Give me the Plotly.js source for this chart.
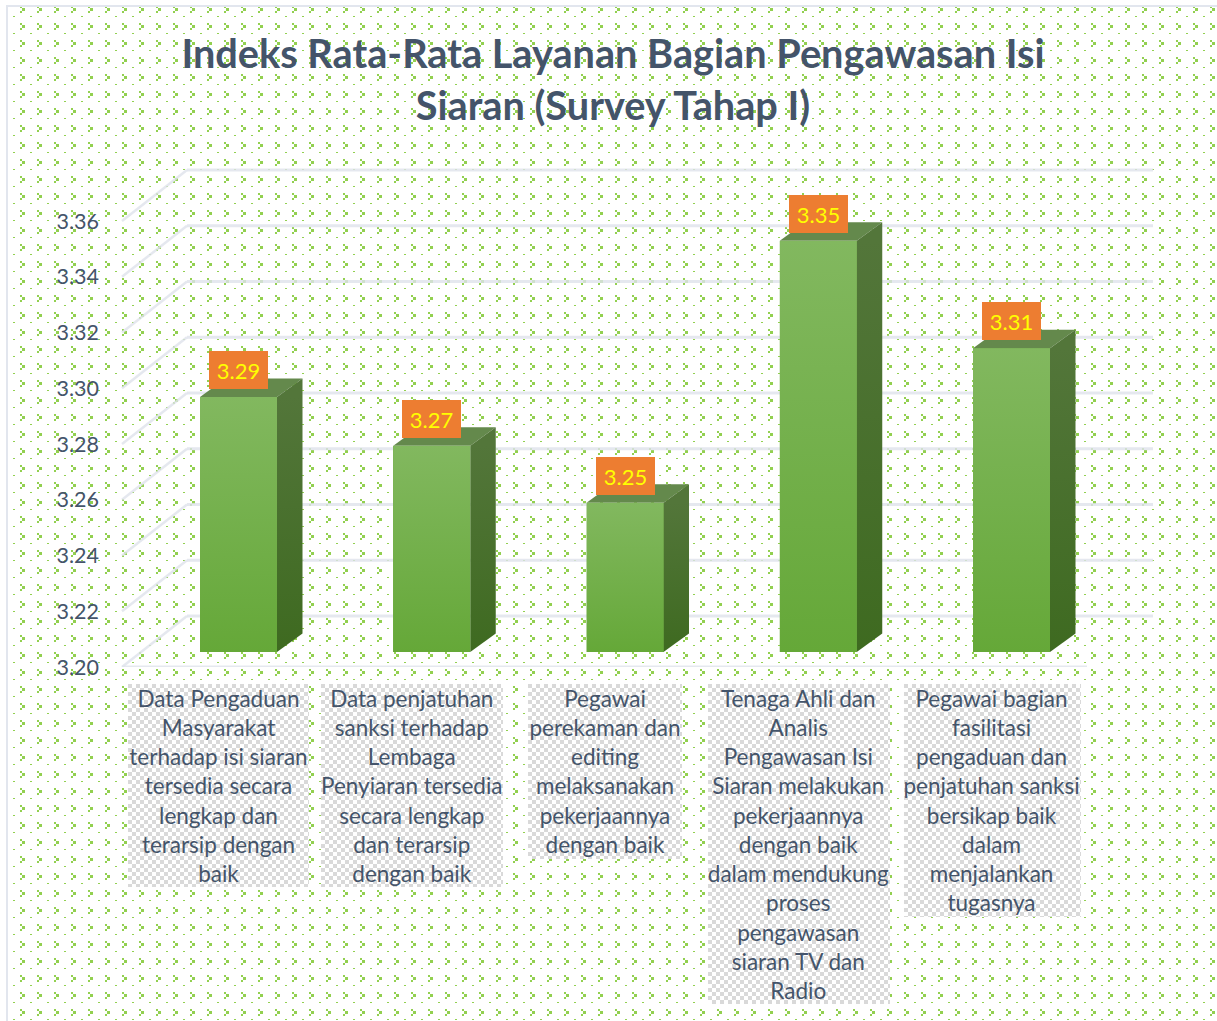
<!DOCTYPE html>
<html><head><meta charset="utf-8">
<script src="https://cdn.plot.ly/plotly-3.0.1.min.js"></script>
<style>
html,body{margin:0;padding:0;background:#fff;overflow:hidden;width:1217px;height:1021px}
#bg{position:absolute;left:6px;top:5px;width:1211px;height:1016px;box-sizing:border-box;border-left:2px solid #e2e6ee;border-top:2px solid #e2e6ee;background-position:-8px -7px}
#chart{position:absolute;left:0;top:0;width:1217px;height:1021px}
</style></head><body>
<div id="bg"></div><div id="chart"></div>
<script>
// Data
var categories = [
 "Data Pengaduan<br>Masyarakat<br>terhadap isi siaran<br>tersedia secara<br>lengkap dan<br>terarsip dengan<br>baik",
 "Data penjatuhan<br>sanksi terhadap<br>Lembaga<br>Penyiaran tersedia<br>secara lengkap<br>dan terarsip<br>dengan baik",
 "Pegawai<br>perekaman dan<br>editing<br>melaksanakan<br>pekerjaannya<br>dengan baik",
 "Tenaga Ahli dan<br>Analis<br>Pengawasan Isi<br>Siaran melakukan<br>pekerjaannya<br>dengan baik<br>dalam mendukung<br>proses<br>pengawasan<br>siaran TV dan<br>Radio",
 "Pegawai bagian<br>fasilitasi<br>pengaduan dan<br>penjatuhan sanksi<br>bersikap baik<br>dalam<br>menjalankan<br>tugasnya"
];
var values = [3.2915, 3.274, 3.2535, 3.3475, 3.309];
var yTicks = [3.20, 3.22, 3.24, 3.26, 3.28, 3.30, 3.32, 3.34, 3.36];
var titleText = "Indeks Rata-Rata Layanan Bagian Pengawasan Isi<br>Siaran (Survey Tahap I)";

// Background tile
var tile = "<svg xmlns='http://www.w3.org/2000/svg' width='17' height='17' shape-rendering='crispEdges'><g fill='#92d050'><rect x='3' y='6' width='2' height='2'/><rect x='5' y='8' width='3' height='3'/><rect x='3' y='11' width='2' height='2'/><rect x='13' y='16' width='2' height='2'/></g></svg>";
document.getElementById('bg').style.backgroundImage = 'url("data:image/svg+xml,' + encodeURIComponent(tile) + '")';

// Geometry (pixel layout of the plot)
var L=120, R=1170, T=150, B=667, W=1217, H=1021;
var pxPerX=193.25, pxPerY=2787.5, x0px=238.5;
var dxu=function(p){return p/pxPerX;}, dyu=function(p){return p/pxPerY;};
var xRange=[(L-x0px)/pxPerX,(R-x0px)/pxPerX];
var yMin=yTicks[0], yRange=[yMin,yMin+(B-T)/pxPerY];
var halfW=dxu(77)/2, baseLift=dyu(15), sideX=dxu(25.5), sideY=dyu(18.5);
var idx=values.map(function(_,i){return i;});
var base=yMin+baseLift;
var xpx=function(p){return (p-x0px)/pxPerX;};

var traces=[];
traces.push({type:'bar',x:idx,y:values.map(function(v){return v-yMin;}),base:values.map(function(){return base;}),
  width:halfW*2,marker:{color:'#74af4b',line:{width:0}},hoverinfo:'skip',showlegend:false});
values.forEach(function(v,i){
  var top=v+baseLift, l=i-halfW, r=i+halfW;
  // top face
  traces.push({type:'scatter',mode:'lines',line:{width:0},fill:'toself',fillcolor:'#64894c',hoverinfo:'skip',showlegend:false,
    x:[l,r,r+sideX,l+sideX,l],y:[top,top,top+sideY,top+sideY,top]});
  // side face
  traces.push({type:'scatter',mode:'lines',line:{width:0},fill:'toself',hoverinfo:'skip',showlegend:false,
    x:[r,r+sideX,r+sideX,r,r],y:[base,base+sideY,top+sideY,top,base],
    fillgradient:{type:'vertical',start:base,stop:top,colorscale:[[0,'#3e6a20'],[1,'#53763a']]}});
  // front face
  traces.push({type:'scatter',mode:'lines',line:{width:0},fill:'toself',hoverinfo:'skip',showlegend:false,
    x:[l,r,r,l,l],y:[base,base,top,top,base],
    fillgradient:{type:'vertical',start:base,stop:top,colorscale:[[0,'#65a838'],[1,'#82b85f']]}});
});

// Walls: grid lines on back plane and depth lines
var gridCol='rgba(222,226,235,0.8)';
var backX=dxu(65), backY=dyu(51);
var shapes=[];
yTicks.forEach(function(t){
  shapes.push({type:'line',layer:'below',xref:'x',yref:'y',x0:xpx(L+2),y0:t,x1:xpx(L+2)+backX,y1:t+backY,line:{color:gridCol,width:2.5}});
  shapes.push({type:'line',layer:'below',xref:'x',yref:'y',x0:xpx(L+2)+backX,y0:t+backY,x1:xpx(1153),y1:t+backY,line:{color:gridCol,width:3}});
});
shapes.push({type:'line',layer:'below',xref:'x',yref:'y',x0:xpx(L+2),y0:yMin,x1:xpx(1087),y1:yMin,line:{color:gridCol,width:3}});

// Value labels
var annotations=values.map(function(v,i){
  return {x:i,y:v+baseLift,xref:'x',yref:'y',yshift:27,text:v.toFixed(2),showarrow:false,
    width:59,height:38,borderpad:0,borderwidth:0,bgcolor:'#ed7d31',font:{family:'Lato',size:22,color:'#ffff00'},align:'center',valign:'middle',xanchor:'center',yanchor:'middle'};
});

// Checker backdrops behind category labels [x0,x1,y1]
var boxes=[[128,309,887],[321,503,887],[528,682,859],[708,890,1004],[904,1081,917]];
var images=boxes.map(function(b){
  var w=b[1]-b[0], h=b[2]-684;
  var svg="<svg xmlns='http://www.w3.org/2000/svg' width='"+w+"' height='"+h+"' shape-rendering='crispEdges'><defs><pattern id='p' width='8' height='8' patternUnits='userSpaceOnUse'><rect width='8' height='8' fill='#fff'/><rect width='4' height='4' fill='#d9d9d9'/><rect x='4' y='4' width='4' height='4' fill='#d9d9d9'/></pattern></defs><rect width='"+w+"' height='"+h+"' fill='url(#p)'/></svg>";
  return {source:'data:image/svg+xml,'+encodeURIComponent(svg),layer:'below',xref:'paper',yref:'paper',
    x:(b[0]-L)/(R-L),y:(B-684)/(B-T),sizex:w/(R-L),sizey:h/(B-T),sizing:'stretch',xanchor:'left',yanchor:'top'};
});

var layout={
  width:W,height:H,autosize:false,
  margin:{l:L,r:W-R,t:T,b:H-B,pad:0},
  paper_bgcolor:'rgba(0,0,0,0)',plot_bgcolor:'rgba(0,0,0,0)',
  font:{family:'Lato',color:'#44546a'},
  title:{text:titleText,x:613/W,xanchor:'center',y:0.9335,yanchor:'middle',font:{family:'Lato',size:39.7,color:'#44546a',weight:700}},
  xaxis:{range:xRange,tickmode:'array',tickvals:idx.map(function(i){return i-dxu(20);}),ticktext:categories,
    showgrid:false,zeroline:false,showline:false,ticks:'',tickangle:0,ticklabelstandoff:16,
    tickfont:{family:'Lato',size:22.5,color:'#44546a'},automargin:false},
  yaxis:{range:yRange,tickmode:'array',tickvals:yTicks,ticktext:yTicks.map(function(t){return t.toFixed(2);}),
    showgrid:false,zeroline:false,showline:false,ticks:'',ticklabelstandoff:20,
    tickfont:{family:'Lato',size:21.5,color:'#44546a'},automargin:false},
  bargap:0,showlegend:false,shapes:shapes,annotations:annotations,images:images
};
Plotly.newPlot('chart',traces,layout,{displayModeBar:false,staticPlot:true});
</script></body></html>
